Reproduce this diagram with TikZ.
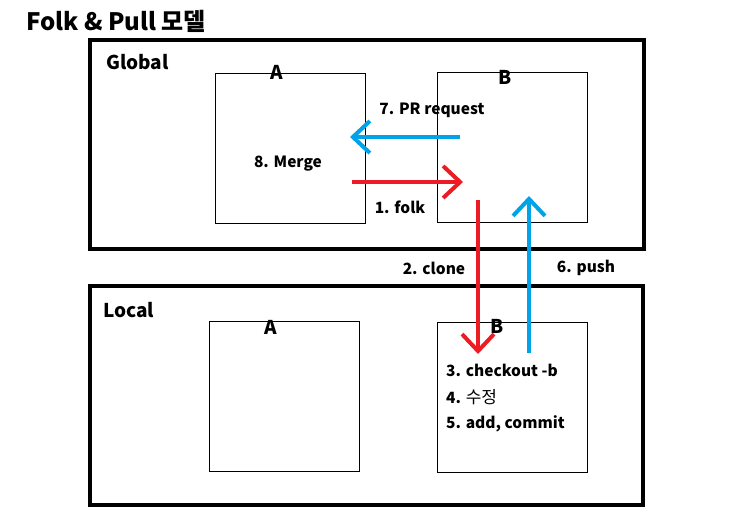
\documentclass[tikz,border=0pt]{standalone}
\usepackage{fontspec}
\setmainfont{Noto Sans CJK KR}
\usetikzlibrary{arrows.meta}

\definecolor{forkred}{RGB}{237,28,36}
\definecolor{pushblue}{RGB}{0,162,232}

\begin{document}
\begin{tikzpicture}[x=1pt, y=-1pt,
        zone/.style={draw, line width=3.5pt, inner sep=0pt, anchor=north west},
        repo/.style={draw, line width=1pt, inner sep=0pt, anchor=north west,
                     minimum width=150pt, minimum height=150pt},
        tag/.style={font=\bfseries\fontsize{19}{19}\selectfont, inner sep=0pt},
        lbl/.style={font=\bfseries\fontsize{15.5}{15.5}\selectfont, inner sep=0pt},
        flow/.style={line width=4pt, -{Straight Barb[length=17pt, width=32pt]}}
    ]
    \useasboundingbox (0,0) rectangle (730,522);

    \node[anchor=west, inner sep=0pt, font=\bfseries\fontsize{24}{24}\selectfont]
        (title) at (26,21) {Folk \& Pull 모델};

    % boxes
    \node[zone, minimum width=554pt, minimum height=209pt] (global) at (88,38) {};
    \node[zone, minimum width=553pt, minimum height=219pt] (local) at (88,284) {};

    \node[repo] (globalA) at (215,73) {};
    \node[repo] (globalB) at (437,72) {};
    \node[repo] (localA) at (209,321) {};
    \node[repo] (localB) at (437,322) {};

    \node[tag, anchor=west] (globalTxt) at (106,62) {Global};
    \node[tag, anchor=west] (localTxt) at (103,310) {Local};
    \node[tag] (globalAtag) at (277,72) {A};
    \node[tag] (globalBtag) at (505,77) {B};
    \node[tag] (localAtag) at (271,327) {A};
    \node[tag] (localBtag) at (497,326) {B};

    % arrows
    \coordinate (prFrom) at (460,137);
    \coordinate (prTo) at (350,137);
    \coordinate (forkFrom) at (352,182);
    \coordinate (forkTo) at (463,182);
    \coordinate (cloneFrom) at (478,200);
    \coordinate (cloneTo) at (478,354);
    \coordinate (pushFrom) at (529,353);
    \coordinate (pushTo) at (529,196);

    \draw[flow, pushblue] (prFrom) -- (prTo);
    \draw[flow, forkred] (forkFrom) -- (forkTo);
    \draw[flow, forkred] (cloneFrom) -- (cloneTo);
    \draw[flow, pushblue] (pushFrom) -- (pushTo);

    % labels
    \node[lbl] (prTxt) at (432,110) {7. PR request};
    \node[lbl] (mergeTxt) at (288,164) {8. Merge};
    \node[lbl] (forkTxt) at (400,207) {1. folk};
    \node[lbl] (cloneTxt) at (434,268) {2. clone};
    \node[lbl] (pushTxt) at (586,268) {6. push};

    \node[lbl, anchor=west] (stepC) at (446,370) {3. checkout -b};
    \node[lbl, anchor=west] (stepE) at (446,397) {4. {\mdseries\fontsize{17}{17}\selectfont 수정}};
    \node[lbl, anchor=west] (stepA) at (446,424) {5. add, commit};
\end{tikzpicture}
\end{document}
